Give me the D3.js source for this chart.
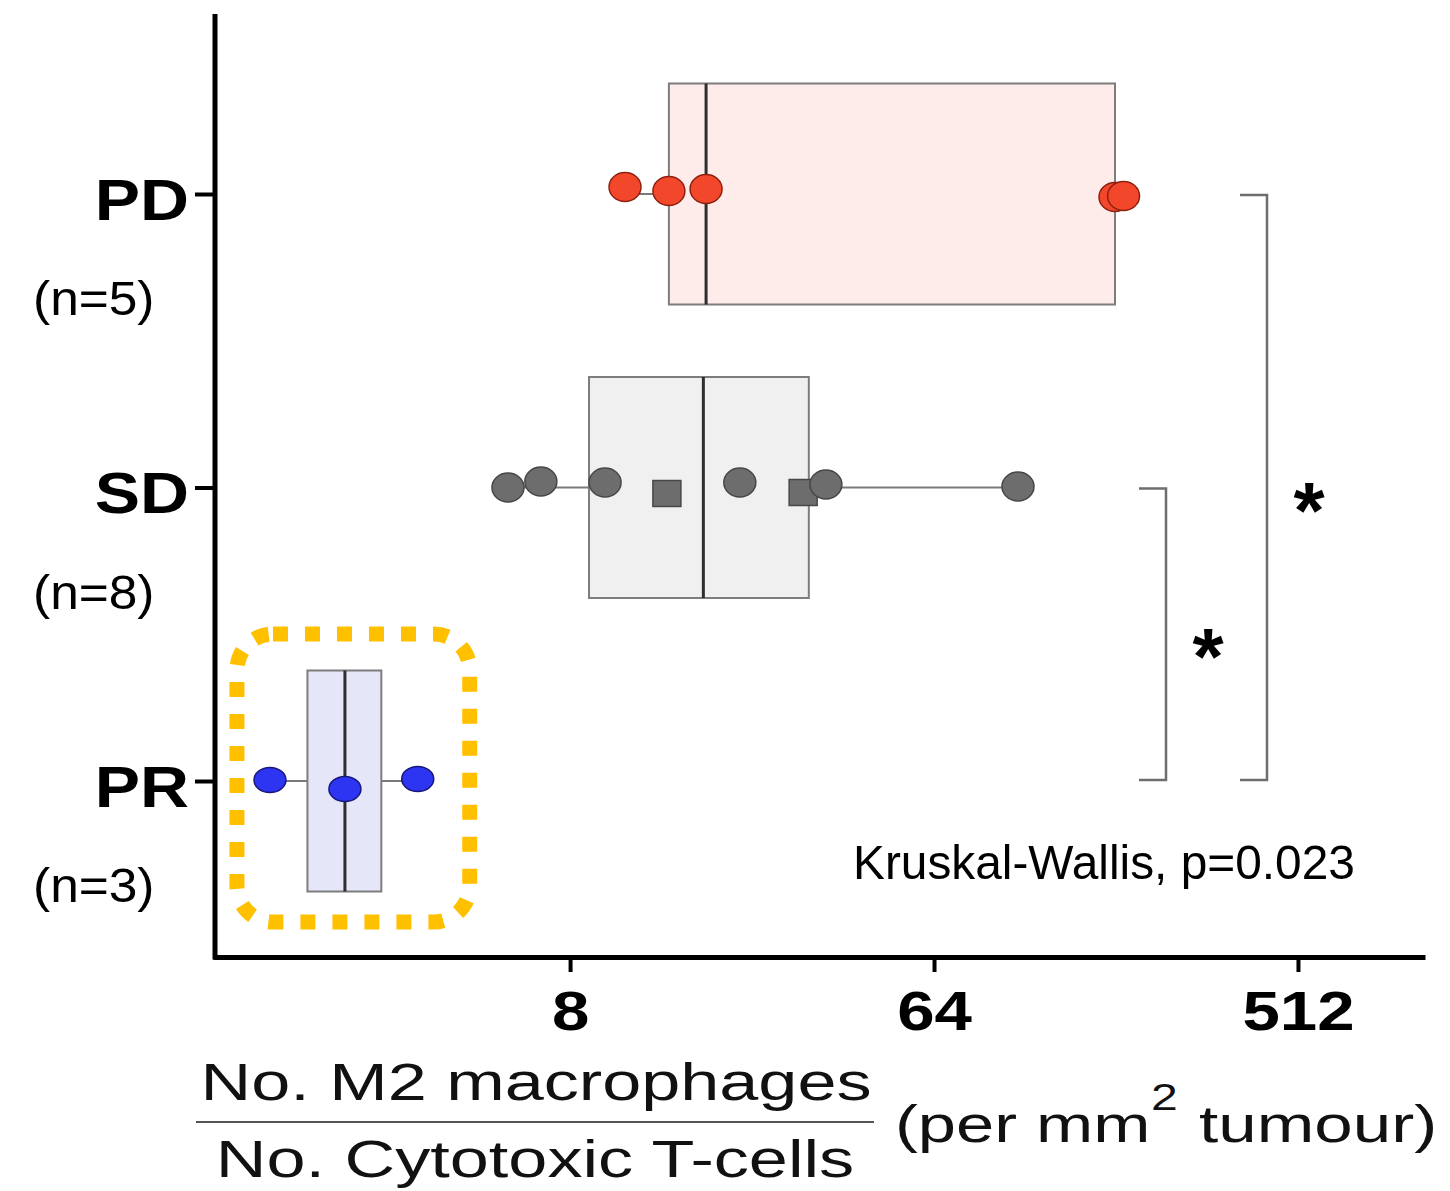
<!DOCTYPE html>
<html><head><meta charset="utf-8">
<script src="https://cdn.jsdelivr.net/npm/d3@7"></script>
<style>body{margin:0;background:#fff;} svg{display:block;font-family:Arial,"Liberation Sans",sans-serif;}</style>
</head><body><svg id="c" width="1450" height="1191"></svg>
<script>
// ---------- data ----------
const categories = ["PD", "SD", "PR"];
const groupSizes = ["(n=5)", "(n=8)", "(n=3)"];
const pdValues = [10.95, 14.07, 17.4, 180, 189];
const pdShapes = ["circle", "circle", "circle", "circle", "circle"];
const pdJitter = [-7, -3, -5, 3, 2];
const sdValues = [5.61, 6.77, 9.77, 13.91, 21.1, 30.3, 34.5, 103.4];
const sdShapes = ["circle", "circle", "circle", "square", "circle", "square", "circle", "circle"];
const sdJitter = [0, -6, -5, 6, -5, 5, -3, -1];
const prValues = [1.44, 2.21, 3.35];
const prShapes = ["circle", "circle", "circle"];
const prJitter = [-1, 8, -2];
const xTicks = [8, 64, 512];
const xTitleTop = "No. M2 macrophages";
const xTitleBottom = "No. Cytotoxic T-cells";
const xTitleUnit = ["(per mm", "2", "tumour)"];
const testLabel = "Kruskal-Wallis, p=0.023";
const comparisons = [
  { from: "SD", to: "PR", label: "*" },
  { from: "PD", to: "PR", label: "*" }
];

// ---------- styles ----------
const styles = {
  PD: { fill: "#f3472b", stroke: "#8e2010", box: "#fdecea" },
  SD: { fill: "#6d6d6d", stroke: "#474747", box: "#f0f0f0" },
  PR: { fill: "#2d35f2", stroke: "#16187a", box: "#e5e7f8" }
};
const groups = [
  { cat: "PD", values: pdValues, shapes: pdShapes, jitter: pdJitter },
  { cat: "SD", values: sdValues, shapes: sdShapes, jitter: sdJitter },
  { cat: "PR", values: prValues, shapes: prShapes, jitter: prJitter }
];

const svg = d3.select("#c");
const x = d3.scaleLog().base(2).domain([1.04, 1058]).range([213, 1425]);
const y = d3.scalePoint().domain(categories).range([194, 781]);
const boxH = 221;
const axisY = 957, axisX = 215;

// horizontal stretch of text glyphs (the reference is horizontally stretched)
function hscale(sel, f) {
  sel.each(function () {
    const el = d3.select(this);
    const x0 = +el.attr("x") || 0, y0 = +el.attr("y") || 0;
    el.attr("x", 0).attr("y", 0).attr("transform", `translate(${x0},${y0}) scale(${f},1)`);
  });
}

// ---------- boxes ----------
const gBox = svg.append("g");
groups.forEach(g => {
  const st = styles[g.cat];
  const logs = g.values.map(v => Math.log2(v)).sort(d3.ascending);
  const q1 = d3.quantile(logs, 0.25), med = d3.quantile(logs, 0.5), q3 = d3.quantile(logs, 0.75);
  const iqr = q3 - q1;
  const lo = d3.min(logs.filter(v => v >= q1 - 1.5 * iqr));
  const hi = d3.max(logs.filter(v => v <= q3 + 1.5 * iqr));
  const cy = y(g.cat);
  const X = l => x(Math.pow(2, l));
  gBox.append("line").attr("x1", X(lo)).attr("x2", X(q1)).attr("y1", cy).attr("y2", cy)
    .attr("stroke", "#7a7a7a").attr("stroke-width", 2);
  gBox.append("line").attr("x1", X(q3)).attr("x2", X(hi)).attr("y1", cy).attr("y2", cy)
    .attr("stroke", "#7a7a7a").attr("stroke-width", 2);
  gBox.append("rect").attr("x", X(q1)).attr("y", cy - boxH / 2).attr("width", X(q3) - X(q1)).attr("height", boxH)
    .attr("fill", st.box).attr("stroke", "#7d7d7d").attr("stroke-width", 2);
  gBox.append("line").attr("x1", X(med)).attr("x2", X(med)).attr("y1", cy - boxH / 2).attr("y2", cy + boxH / 2)
    .attr("stroke", "#2e2e2e").attr("stroke-width", 3);
});

// ---------- points ----------
const gPts = svg.append("g");
groups.forEach(g => {
  const st = styles[g.cat];
  const cy = y(g.cat);
  g.values.forEach((v, i) => {
    const px = x(v), py = cy + g.jitter[i];
    if (g.shapes[i] === "square") {
      gPts.append("rect").attr("x", px - 14).attr("y", py - 13).attr("width", 28).attr("height", 26)
        .attr("fill", st.fill).attr("stroke", st.stroke).attr("stroke-width", 1.5);
    } else {
      gPts.append("ellipse").attr("cx", px).attr("cy", py).attr("rx", 16).attr("ry", g.cat === "PR" ? 12.5 : 14.5)
        .attr("fill", st.fill).attr("stroke", st.stroke).attr("stroke-width", 1.5);
    }
  });
});

// ---------- axes ----------
const gx = svg.append("g").attr("transform", `translate(0,${axisY})`)
  .call(d3.axisBottom(x).tickValues(xTicks).tickFormat(d3.format("d")).tickSize(15).tickSizeOuter(0));
gx.select(".domain").attr("stroke", "#000").attr("stroke-width", 5);
gx.selectAll(".tick line").attr("stroke", "#000").attr("stroke-width", 4);
gx.selectAll(".tick text").attr("font-size", 56).attr("font-weight", "bold").attr("fill", "#000")
  .attr("font-family", "Arial, Liberation Sans, sans-serif").attr("dy", 0).attr("y", 73);
hscale(gx.selectAll(".tick text"), 1.2);

const gy = svg.append("g").attr("transform", `translate(${axisX},0)`)
  .call(d3.axisLeft(y).tickSize(20).tickSizeOuter(0));
gy.select(".domain").attr("d", `M0,14V${axisY + 2.5}`).attr("stroke", "#000").attr("stroke-width", 5);
gy.selectAll(".tick line").attr("stroke", "#000").attr("stroke-width", 4);
gy.selectAll(".tick text").attr("font-size", 58).attr("font-weight", "bold").attr("fill", "#000")
  .attr("font-family", "Arial, Liberation Sans, sans-serif").attr("x", -26).attr("dy", 0).attr("y", 25);
hscale(gy.selectAll(".tick text"), 1.17);

// group size labels
const nl = svg.append("g").selectAll("text").data(categories).join("text")
  .attr("x", 33).attr("y", d => y(d) + 121).attr("font-size", 49).attr("fill", "#000")
  .text((d, i) => groupSizes[i]);
hscale(nl, 1.05);

// ---------- x title ----------
const t1 = svg.append("text").attr("x", 536).attr("y", 1100).attr("text-anchor", "middle")
  .attr("font-size", 52).attr("fill", "#111").text(xTitleTop);
const t2 = svg.append("text").attr("x", 535).attr("y", 1177).attr("text-anchor", "middle")
  .attr("font-size", 52).attr("fill", "#111").text(xTitleBottom);
hscale(t1, 1.35); hscale(t2, 1.35);
svg.append("line").attr("x1", 196).attr("x2", 874).attr("y1", 1122).attr("y2", 1122)
  .attr("stroke", "#555").attr("stroke-width", 2);
const u1 = svg.append("text").attr("x", 895).attr("y", 1142).attr("font-size", 52).attr("fill", "#111").text(xTitleUnit[0]);
const u2 = svg.append("text").attr("x", 1151).attr("y", 1110).attr("font-size", 37).attr("fill", "#111").text(xTitleUnit[1]);
const u3 = svg.append("text").attr("x", 1199).attr("y", 1142).attr("font-size", 52).attr("fill", "#111").text(xTitleUnit[2]);
hscale(u1, 1.32); hscale(u2, 1.3); hscale(u3, 1.33);

// ---------- significance brackets ----------
const bracketX = [1166, 1267];
comparisons.forEach((c, i) => {
  const bx = bracketX[i], y1 = y(c.from) + 1, y2 = y(c.to) - 1;
  svg.append("path").attr("d", `M${bx - 27},${y1}H${bx}V${y2}H${bx - 27}`)
    .attr("fill", "none").attr("stroke", "#6e6e6e").attr("stroke-width", 2.5);
  svg.append("text").attr("x", bx + 42).attr("y", (y1 + y2) / 2 + 50).attr("text-anchor", "middle")
    .attr("font-size", 80).attr("font-weight", "bold").attr("fill", "#000").text(c.label);
});

// test label
const kt = svg.append("text").attr("x", 853).attr("y", 879).attr("font-size", 49).attr("fill", "#000").text(testLabel);
hscale(kt, 502 / kt.node().getComputedTextLength());

// ---------- highlight around PR ----------
const prLo = d3.min(prValues), prHi = d3.max(prValues);
svg.append("rect")
  .attr("x", x(prLo) - 33).attr("y", y("PR") - 147)
  .attr("width", x(prHi) + 52 - (x(prLo) - 33)).attr("height", 288)
  .attr("rx", 36).attr("ry", 36)
  .attr("fill", "none").attr("stroke", "#ffc000").attr("stroke-width", 15)
  .attr("stroke-dasharray", "15 17");
</script></body></html>
